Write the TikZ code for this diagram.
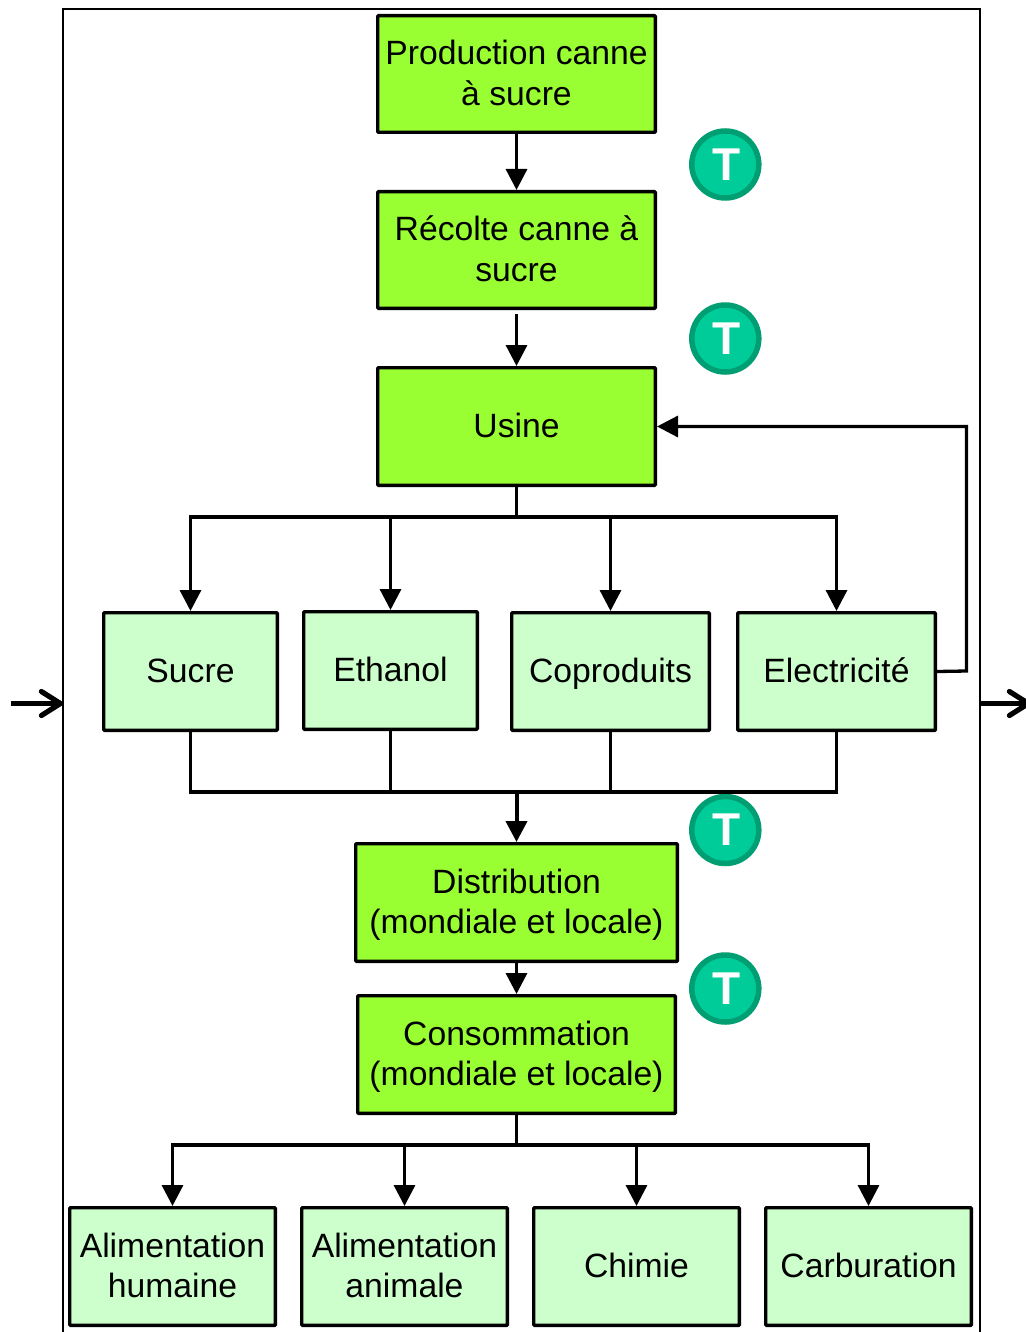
\documentclass[tikz,border=0pt]{standalone}
\usepackage{fontspec}
\setmainfont{Liberation Sans}
\usetikzlibrary{arrows.meta}
\definecolor{dkgreen}{HTML}{99FF33}
\definecolor{ltgreen}{HTML}{CCFFCC}
\definecolor{tfill}{HTML}{00CC99}
\definecolor{tedge}{HTML}{009E73}
\newcommand{\bx}[6]{\node[#1,minimum width=#4-#3-3.3pt,minimum height=#6-#5-3.3pt] at ({(#3+#4)/2},{(#5+#6)/2}) (#2)}
\newcommand{\st}{\rule[-7pt]{0pt}{36pt}}
\tikzset{
  x=1pt,y=-1pt,
  boxbase/.style={draw=black,line width=3.3pt,rounded corners=0.8pt,inner sep=0pt,align=center,
    font=\fontsize{33.7}{40.5}\selectfont,text=black},
  strong/.style={boxbase,fill=dkgreen},
  light/.style={boxbase,fill=ltgreen},
  conn/.style={draw=black,line width=3.3pt},
  flow/.style={conn,-{Triangle[length=21pt,width=21pt]}},
  plainline/.style={conn},
  bigarrow/.style={draw=black,line width=5.2pt,-{Straight Barb[length=19pt,width=24pt,round]}},
  frameline/.style={draw=black,line width=2pt},
  tbadge/.style={circle,draw=tedge,fill=tfill,line width=5.5pt,minimum size=67pt,inner sep=0pt,
    text=white,font=\fontsize{46}{46}\bfseries\selectfont},
}
\begin{document}
\begin{tikzpicture}
\useasboundingbox (0,0) rectangle (1025,1332);
\fill[white] (0,0) rectangle (1025,1332);
% frame
\coordinate (fbl) at (63,1332);
\coordinate (ftl) at (63,9);
\coordinate (ftr) at (980,9);
\coordinate (fbr) at (980,1332);
\draw[frameline] (fbl) -- (ftl) -- (ftr) -- (fbr);
% boxes
\bx{strong}{prod}{376}{657}{14}{134} {\st Production canne\\\st à sucre};
\bx{strong}{rec}{376}{657}{190}{310} {\st Récolte canne à\\\st sucre};
\bx{strong}{usine}{376}{657}{366}{487} {\st Usine};
\bx{light}{sucre}{102}{279}{611}{732} {\st Sucre};
\bx{light}{eth}{302}{479}{610}{731} {\st Ethanol};
\bx{light}{copro}{510}{711}{611}{732} {\st Coproduits};
\bx{light}{elec}{736}{937}{611}{732} {\st Electricité};
\bx{strong}{dist}{354}{679}{842}{963} {\st Distribution\\\st (mondiale et locale)};
\bx{strong}{cons}{356}{677}{994}{1115} {\st Consommation\\\st (mondiale et locale)};
\bx{light}{ah}{68}{277}{1206}{1327} {\st Alimentation\\\st humaine};
\bx{light}{aa}{300}{509}{1206}{1327} {\st Alimentation\\\st animale};
\bx{light}{chim}{532}{741}{1206}{1327} {\st Chimie};
\bx{light}{carb}{764}{973}{1206}{1327} {\st Carburation};
% badges
\node[tbadge] (t1) at (725.3,164.5) {\hspace*{2pt}T};
\node[tbadge] (t2) at (725.3,338.5) {\hspace*{2pt}T};
\node[tbadge] (t3) at (725.3,830) {\hspace*{2pt}T};
\node[tbadge] (t4) at (725.3,988.5) {\hspace*{2pt}T};
% main flow
\draw[flow] (prod.south) -- (rec.north);
\coordinate (recgap) at (516.5,314);
\draw[flow] (recgap) -- (usine.north);
% usine to products
\coordinate (bus1) at (516.5,517);
\draw[conn] (usine.south) -- (bus1);
\draw[flow] (bus1) -| (sucre.north);
\draw[flow] (bus1) -| (eth.north);
\draw[flow] (bus1) -| (copro.north);
\draw[flow] (bus1) -| (elec.north);
% electricity feedback
\coordinate (fb) at (966.5,671);
\draw[flow,rounded corners=0pt] (elec.east) -- (fb) |- (usine.east);
% products to distribution
\coordinate (bus2) at (516.5,792);
\draw[plainline] (sucre.south) |- (bus2);
\draw[plainline] (eth.south) |- (bus2);
\draw[plainline] (copro.south) |- (bus2);
\draw[plainline] (elec.south) |- (bus2);
\draw[flow,line width=4pt] (bus2) -- (dist.north);
\draw[flow] (dist.south) -- (cons.north);
% uses
\coordinate (bus3) at (516.5,1145);
\draw[conn] (cons.south) -- (bus3);
\draw[flow] (bus3) -| (ah.north);
\draw[flow] (bus3) -| (aa.north);
\draw[flow] (bus3) -| (chim.north);
\draw[flow] (bus3) -| (carb.north);
% input and output
\coordinate (inS) at (11,703.5);
\coordinate (inE) at (63,703.5);
\coordinate (outS) at (980,703.5);
\coordinate (outE) at (1031,703.5);
\draw[bigarrow] (inS) -- (inE);
\draw[bigarrow] (outS) -- (outE);
\end{tikzpicture}
\end{document}
